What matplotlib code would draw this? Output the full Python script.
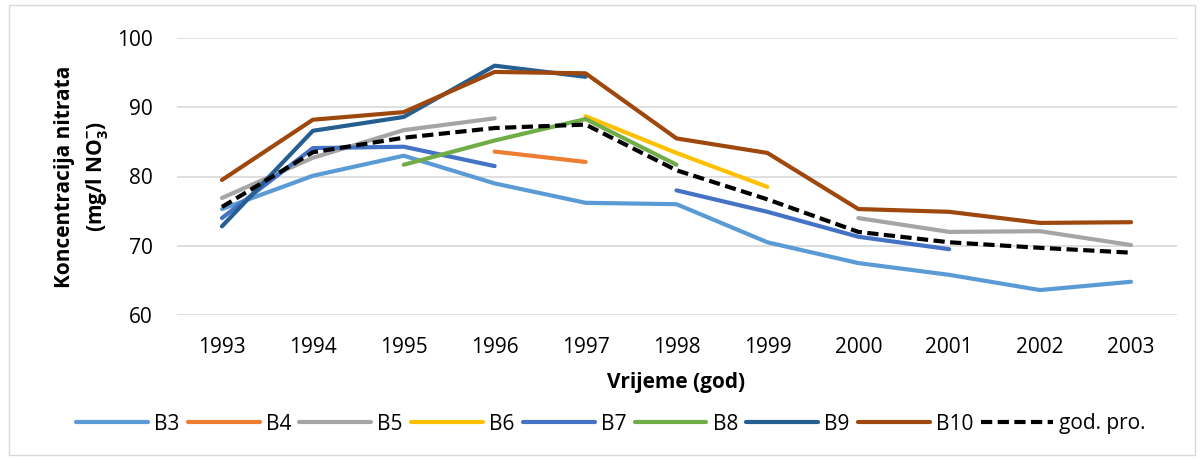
import matplotlib
matplotlib.use("Agg")
import matplotlib.pyplot as plt
from matplotlib.patches import Rectangle
import numpy as np

nan = np.nan

# godine mjerenja
years = [1993, 1994, 1995, 1996, 1997, 1998, 1999, 2000, 2001, 2002, 2003]

# koncentracije nitrata po bunarima (mg/l NO3-), nan = nema mjerenja
b3 = [75.3, 80.1, 83.0, 79.0, 76.2, 76.0, 70.5, 67.5, 65.8, 63.6, 64.8]
b4 = [nan, nan, nan, 83.6, 82.1, nan, nan, nan, nan, nan, nan]
b5 = [76.9, 82.7, 86.7, 88.4, nan, nan, nan, 74.0, 72.0, 72.1, 70.1]
b6 = [nan, nan, nan, nan, 88.7, 83.4, 78.5, nan, nan, nan, nan]
b7 = [74.0, 84.1, 84.3, 81.5, nan, 78.0, 74.9, 71.3, 69.5, nan, nan]
b8 = [nan, nan, 81.7, 85.2, 88.3, 81.7, nan, nan, nan, nan, nan]
b9 = [72.8, 86.6, 88.6, 96.0, 94.4, nan, nan, nan, nan, nan, nan]
b10 = [79.5, 88.2, 89.3, 95.1, 94.9, 85.5, 83.4, 75.3, 74.9, 73.3, 73.4]
god_pro = [75.6, 83.5, 85.6, 87.0, 87.5, 80.9, 76.7, 72.0, 70.5, 69.7, 69.0]

series = [
    ("B3", b3, "#5B9BD5"),
    ("B4", b4, "#ED7D31"),
    ("B5", b5, "#A5A5A5"),
    ("B6", b6, "#FFC000"),
    ("B7", b7, "#4472C4"),
    ("B8", b8, "#70AD47"),
    ("B9", b9, "#255E91"),
    ("B10", b10, "#9E480E"),
]

plt.rcParams['font.family'] = ['Open Sans', 'DejaVu Sans']
plt.rcParams['mathtext.fontset'] = 'custom'
plt.rcParams['mathtext.rm'] = 'Open Sans'
plt.rcParams['mathtext.bf'] = 'Open Sans:bold'

fig = plt.figure(figsize=(12.03, 4.59), dpi=100)
ax = fig.add_axes([176.5 / 1203, 1 - 315 / 459, 1000 / 1203, 277 / 459])

x = np.arange(len(years))
for name, vals, col in series:
    ax.plot(x, vals, color=col, lw=3, label=name, solid_capstyle='round', zorder=3)
ax.plot(x, god_pro, color='black', lw=3, ls=(0, (2.7, 1.3)), label='god. pro.', zorder=4)

ax.set_xlim(-0.5, len(years) - 0.5)
ax.set_ylim(60, 100)
ax.set_yticks([60, 70, 80, 90, 100])
ax.set_xticks(x)
ax.set_xticklabels([str(y) for y in years])
ax.tick_params(length=0, labelsize=15, colors='#000000')
ax.tick_params(axis='x', pad=16)
ax.tick_params(axis='y', pad=17)
ax.grid(axis='y', color='#D9D9D9', lw=1.2, zorder=0)
for s in ax.spines.values():
    s.set_visible(False)

ax.set_ylabel('Koncentracija nitrata\n(mg/l NO$_{\\mathbf{3}}^{\\mathbf{-}}$)',
              fontsize=15, fontweight='bold', labelpad=5, linespacing=1.5)
ax.set_xlabel('Vrijeme (god)', fontsize=15, fontweight='bold', labelpad=10)

leg = fig.legend(loc='center', bbox_to_anchor=(611 / 1203, 1 - 424 / 459), ncol=9,
                 frameon=False, fontsize=15, handlelength=3.45, columnspacing=0.4,
                 handletextpad=0.29)

fig.patches.append(Rectangle((9 / 1203, 4 / 459), 1186 / 1203, 450 / 459,
                             transform=fig.transFigure, fill=False,
                             edgecolor='#D9D9D9', lw=1))

fig.savefig('out.png', dpi=100)
